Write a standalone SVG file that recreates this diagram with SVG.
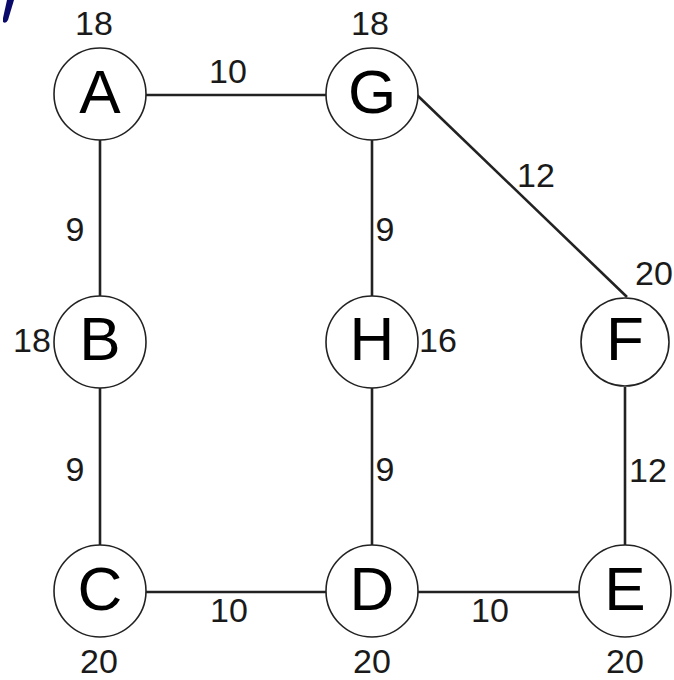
<svg xmlns="http://www.w3.org/2000/svg" width="674" height="680" viewBox="0 0 674 680">
<style>
.edge{stroke:#222;stroke-width:2.6;fill:none}
.node circle{fill:#fff;stroke:#222;stroke-width:1.6}
.lbl{font-family:"Liberation Sans",Arial,sans-serif;font-size:62px;text-anchor:middle;fill:#000}
.num{font-family:"Liberation Sans",Arial,sans-serif;font-size:34px;text-anchor:middle;fill:#1a1a1a}
</style>
<rect width="674" height="680" fill="#fff"/>
<path d="M7,0 L14,0 L8,20 Q6,24 3,22 L3,18 Z" fill="#0a0a6a"/>
<g id="connectors">
<line class="edge" x1="146" y1="95" x2="326" y2="95"/>
<line class="edge" x1="100" y1="140" x2="100" y2="296"/>
<line class="edge" x1="100" y1="388" x2="100" y2="545"/>
<line class="edge" x1="146" y1="592" x2="326" y2="592"/>
<line class="edge" x1="418" y1="592" x2="579" y2="592"/>
<line class="edge" x1="372" y1="140" x2="372" y2="296"/>
<line class="edge" x1="372" y1="388" x2="372" y2="545"/>
<line class="edge" x1="625" y1="387" x2="625" y2="546"/>
<line class="edge" x1="417" y1="95" x2="627" y2="297"/>
<text class="num" x="228" y="83">10</text>
<text class="num" x="536" y="187">12</text>
<text class="num" x="75" y="241">9</text>
<text class="num" x="385" y="241">9</text>
<text class="num" x="75" y="481">9</text>
<text class="num" x="385" y="481">9</text>
<text class="num" x="648" y="482">12</text>
<text class="num" x="229" y="622">10</text>
<text class="num" x="490" y="622">10</text>
</g>
<g id="A" class="node"><circle cx="100" cy="94" r="46"/><text class="lbl" x="100" y="113">A</text><text class="num" x="94" y="35">18</text></g>
<g id="G" class="node"><circle cx="372" cy="94" r="46"/><text class="lbl" x="372" y="113">G</text><text class="num" x="370" y="35">18</text></g>
<g id="B" class="node"><circle cx="100" cy="342" r="46"/><text class="lbl" x="100" y="360">B</text><text class="num" x="32" y="352">18</text></g>
<g id="H" class="node"><circle cx="372" cy="342" r="46"/><text class="lbl" x="372" y="360">H</text><text class="num" x="438" y="352">16</text></g>
<g id="F" class="node"><circle cx="625" cy="342" r="44"/><text class="lbl" x="625" y="360">F</text><text class="num" x="654" y="285">20</text></g>
<g id="C" class="node"><circle cx="100" cy="591" r="46"/><text class="lbl" x="100" y="610">C</text><text class="num" x="99" y="673">20</text></g>
<g id="D" class="node"><circle cx="372" cy="591" r="46"/><text class="lbl" x="372" y="610">D</text><text class="num" x="372" y="673">20</text></g>
<g id="E" class="node"><circle cx="625" cy="591" r="46"/><text class="lbl" x="625" y="610">E</text><text class="num" x="625" y="673">20</text></g>
</svg>
